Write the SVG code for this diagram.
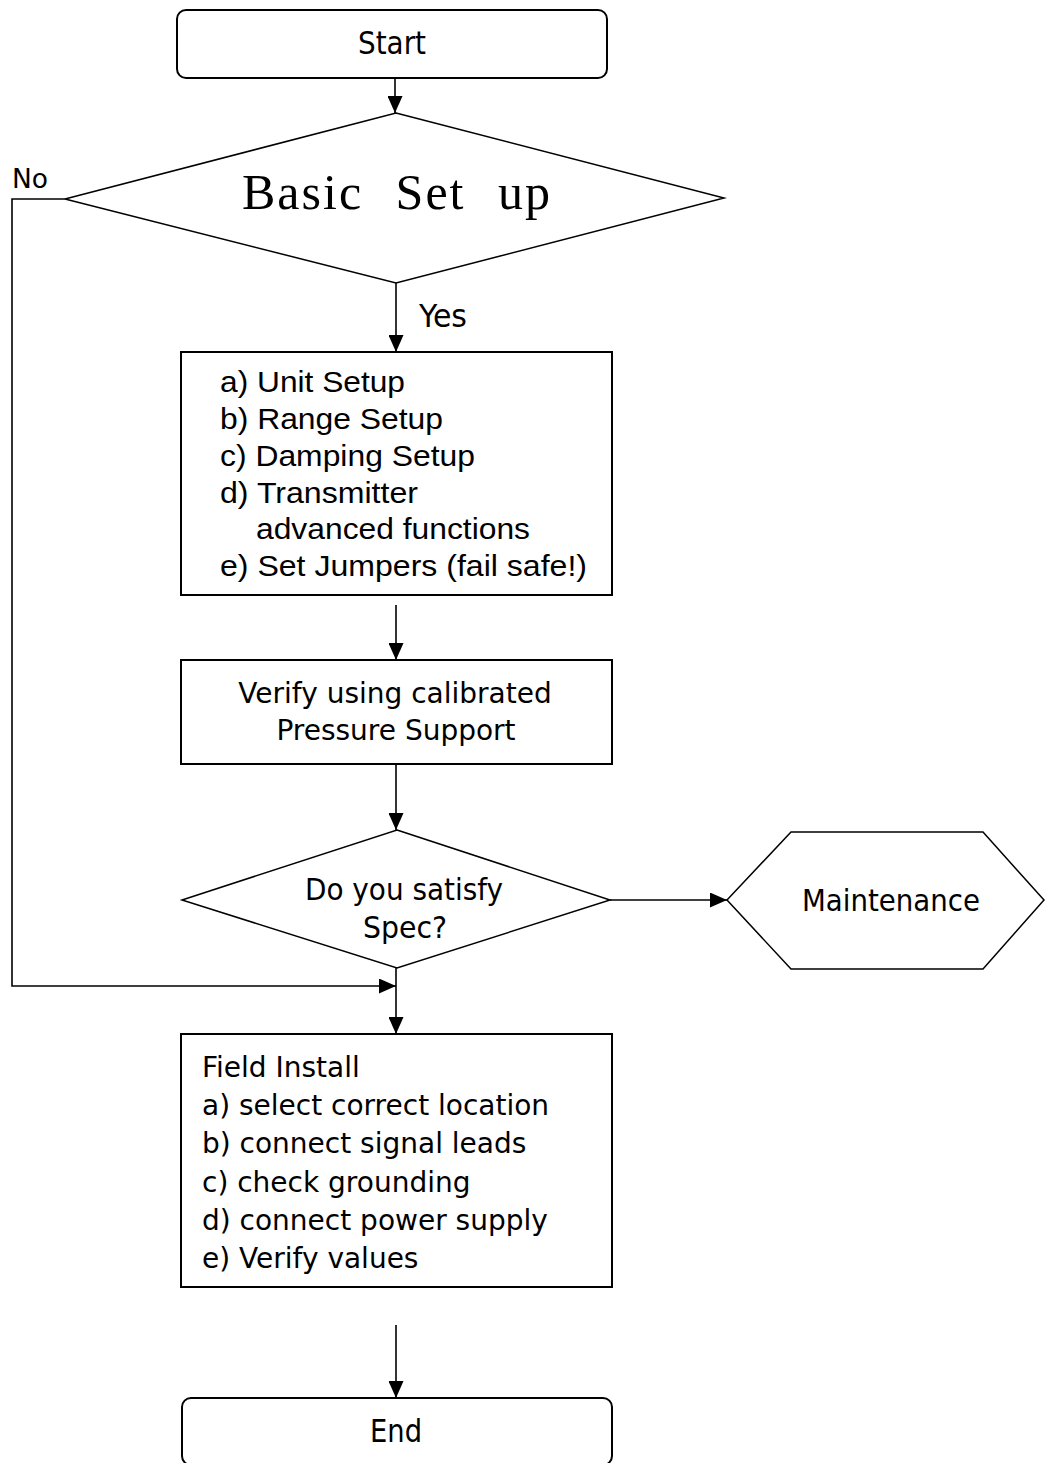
<svg xmlns="http://www.w3.org/2000/svg" width="1045" height="1463" viewBox="0 0 1045 1463">
<style>
.shape{fill:#fff;stroke:#000;stroke-width:2}
.dia{fill:#fff;stroke:#000;stroke-width:1.5}
.conn{fill:none;stroke:#000;stroke-width:1.6}
.cond{font-family:"DejaVu Sans Condensed","DejaVu Sans",sans-serif;font-stretch:condensed;fill:#000}
.tah{font-family:"DejaVu Sans",sans-serif;font-size:28px;fill:#000}
.ari{font-family:"Liberation Sans",Arial,sans-serif;font-size:30px;fill:#000}
.ser{font-family:"Liberation Serif","Times New Roman",serif;fill:#000}
</style>
<defs>
<marker id="arr" markerUnits="userSpaceOnUse" markerWidth="17" markerHeight="15" refX="17" refY="7.5" orient="auto">
<path d="M0,0 L17,7.5 L0,15 z" fill="#000"/>
</marker>
</defs>
<rect width="1045" height="1463" fill="#fff"/>
<g id="connectors">
<line class="conn" x1="395" y1="78" x2="395" y2="113" marker-end="url(#arr)"/>
<line class="conn" x1="396" y1="283" x2="396" y2="352" marker-end="url(#arr)"/>
<text class="cond" x="419" y="327" font-size="32" textLength="48" lengthAdjust="spacingAndGlyphs">Yes</text>
<polyline class="conn" points="65,199 12,199 12,986 396,986" marker-end="url(#arr)"/>
<text class="cond" x="12" y="188" font-size="27" textLength="36" lengthAdjust="spacingAndGlyphs">No</text>
<line class="conn" x1="396" y1="605" x2="396" y2="660" marker-end="url(#arr)"/>
<line class="conn" x1="396" y1="764" x2="396" y2="830" marker-end="url(#arr)"/>
<line class="conn" x1="610" y1="900" x2="727" y2="900" marker-end="url(#arr)"/>
<line class="conn" x1="396" y1="968" x2="396" y2="1034" marker-end="url(#arr)"/>
<line class="conn" x1="396" y1="1325" x2="396" y2="1398" marker-end="url(#arr)"/>
</g>
<g id="start">
<rect class="shape" x="177" y="10" width="430" height="68" rx="9"/>
<text class="cond" x="392" y="54" font-size="32" text-anchor="middle" textLength="68" lengthAdjust="spacingAndGlyphs">Start</text>
</g>
<g id="basic-setup">
<polygon class="dia" points="396,113 724,198 396,283 65,199"/>
<text class="ser" x="242" y="209" font-size="50" letter-spacing="2" word-spacing="18">Basic Set up</text>
</g>
<g id="setup-steps">
<rect class="shape" x="181" y="352" width="431" height="243"/>
<text class="ari" x="220" y="392" textLength="185" lengthAdjust="spacingAndGlyphs">a) Unit Setup</text>
<text class="ari" x="220" y="429" textLength="223" lengthAdjust="spacingAndGlyphs">b) Range Setup</text>
<text class="ari" x="220" y="466" textLength="255" lengthAdjust="spacingAndGlyphs">c) Damping Setup</text>
<text class="ari" x="220" y="503" textLength="198" lengthAdjust="spacingAndGlyphs">d) Transmitter</text>
<text class="ari" x="256" y="539" textLength="274" lengthAdjust="spacingAndGlyphs">advanced functions</text>
<text class="ari" x="220" y="576" textLength="367" lengthAdjust="spacingAndGlyphs">e) Set Jumpers (fail safe!)</text>
</g>
<g id="verify">
<rect class="shape" x="181" y="660" width="431" height="104"/>
<text class="tah" x="395" y="703" text-anchor="middle">Verify using calibrated</text>
<text class="tah" x="396" y="740" text-anchor="middle">Pressure Support</text>
</g>
<g id="satisfy-spec">
<polygon class="dia" points="397,830 610,900 397,968 182,900"/>
<text class="cond" x="404" y="900" font-size="31" text-anchor="middle" textLength="198" lengthAdjust="spacingAndGlyphs">Do you satisfy</text>
<text class="cond" x="405" y="938" font-size="31" text-anchor="middle" textLength="84" lengthAdjust="spacingAndGlyphs">Spec?</text>
</g>
<g id="maintenance">
<polygon class="dia" points="727,900 791,832 983,832 1044,900 983,969 791,969"/>
<text class="cond" x="891" y="911" font-size="30" text-anchor="middle" textLength="178" lengthAdjust="spacingAndGlyphs">Maintenance</text>
</g>
<g id="field-install">
<rect class="shape" x="181" y="1034" width="431" height="253"/>
<text class="tah" x="202" y="1077">Field Install</text>
<text class="tah" x="202" y="1115">a) select correct location</text>
<text class="tah" x="202" y="1153">b) connect signal leads</text>
<text class="tah" x="202" y="1192">c) check grounding</text>
<text class="tah" x="202" y="1230">d) connect power supply</text>
<text class="tah" x="202" y="1268">e) Verify values</text>
</g>
<g id="end">
<rect class="shape" x="182" y="1398" width="430" height="67" rx="9"/>
<text class="cond" x="396" y="1442" font-size="32" text-anchor="middle" textLength="52" lengthAdjust="spacingAndGlyphs">End</text>
</g>
</svg>
